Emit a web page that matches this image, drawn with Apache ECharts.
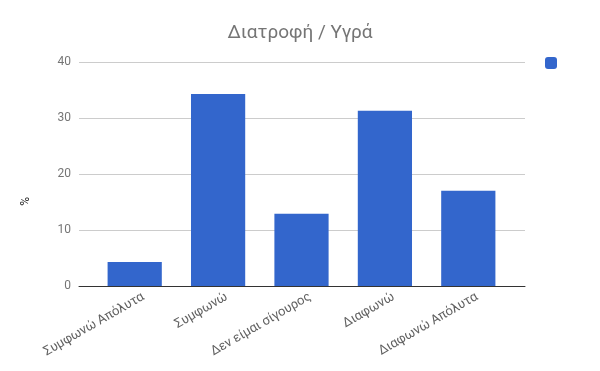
<!DOCTYPE html>
<html><head><meta charset="utf-8">
<script src="https://cdn.jsdelivr.net/npm/echarts@6/dist/echarts.min.js"></script>
<style>html,body{margin:0;padding:0;background:#fff}#c{width:600px;height:371px}</style>
</head><body><div id="c"></div>
<script>
const categories = ["Συμφωνώ Απόλυτα", "Συμφωνώ", "Δεν είμαι σίγουρος", "Διαφωνώ", "Διαφωνώ Απόλυτα"];
const values = [4.3, 34.3, 12.9, 31.3, 17.0];
const yTicks = [0, 10, 20, 30, 40];
const titleText = "Διατροφή / Υγρά";
const yName = "%";
const seriesName = " ";
const chart = echarts.init(document.getElementById('c'));
chart.setOption({
  animation: false,
  title: { text: titleText, left: 'center', top: 19, textStyle: { fontFamily: 'Roboto', fontSize: 19, fontWeight: 'normal', color: '#757575' } },
  legend: { left: 545, top: 57, padding: 0, itemWidth: 12, itemHeight: 12, icon: 'roundRect', data: [seriesName], textStyle: { fontSize: 1, color: '#fff' }, itemGap: 0 },
  graphic: [{ type: 'text', left: 20, top: 197, rotation: Math.PI / 2, style: { text: yName, fill: '#222', font: '12px Roboto' } }],
  grid: [
    { left: 79, right: 75, top: 62, bottom: 85 },
    { left: 93, right: 90, top: 62, bottom: 85 }
  ],
  xAxis: [
    { gridIndex: 0, type: 'value', min: 0, max: 1, axisLabel: { show: false }, splitLine: { show: false }, axisTick: { show: false },
      axisLine: { show: true, onZero: false, lineStyle: { color: '#333', width: 1 } } },
    { gridIndex: 1, type: 'category', data: categories,
      axisTick: { show: false }, axisLine: { show: false },
      axisLabel: { rotate: 30, interval: 0, color: '#616161', fontFamily: 'Roboto', fontSize: 13, margin: 15, padding: [0, -10, 0, 0] } }
  ],
  yAxis: [
    { gridIndex: 0, type: 'value', min: yTicks[0], max: yTicks[yTicks.length - 1], interval: 10,
      axisLabel: { color: '#757575', fontFamily: 'Roboto', fontSize: 12, margin: 8 },
      splitLine: { lineStyle: { color: '#cccccc' } }, axisLine: { show: false }, axisTick: { show: false } },
    { gridIndex: 1, type: 'value', min: yTicks[0], max: yTicks[yTicks.length - 1], interval: 10, show: false, splitLine: { show: false } }
  ],
  series: [
    { type: 'line', xAxisIndex: 0, yAxisIndex: 0, data: [], silent: true },
    { name: seriesName, type: 'bar', xAxisIndex: 1, yAxisIndex: 1, data: values, barWidth: '65%', z: 3, itemStyle: { color: '#3366cc' } }
  ]
});
</script></body></html>
